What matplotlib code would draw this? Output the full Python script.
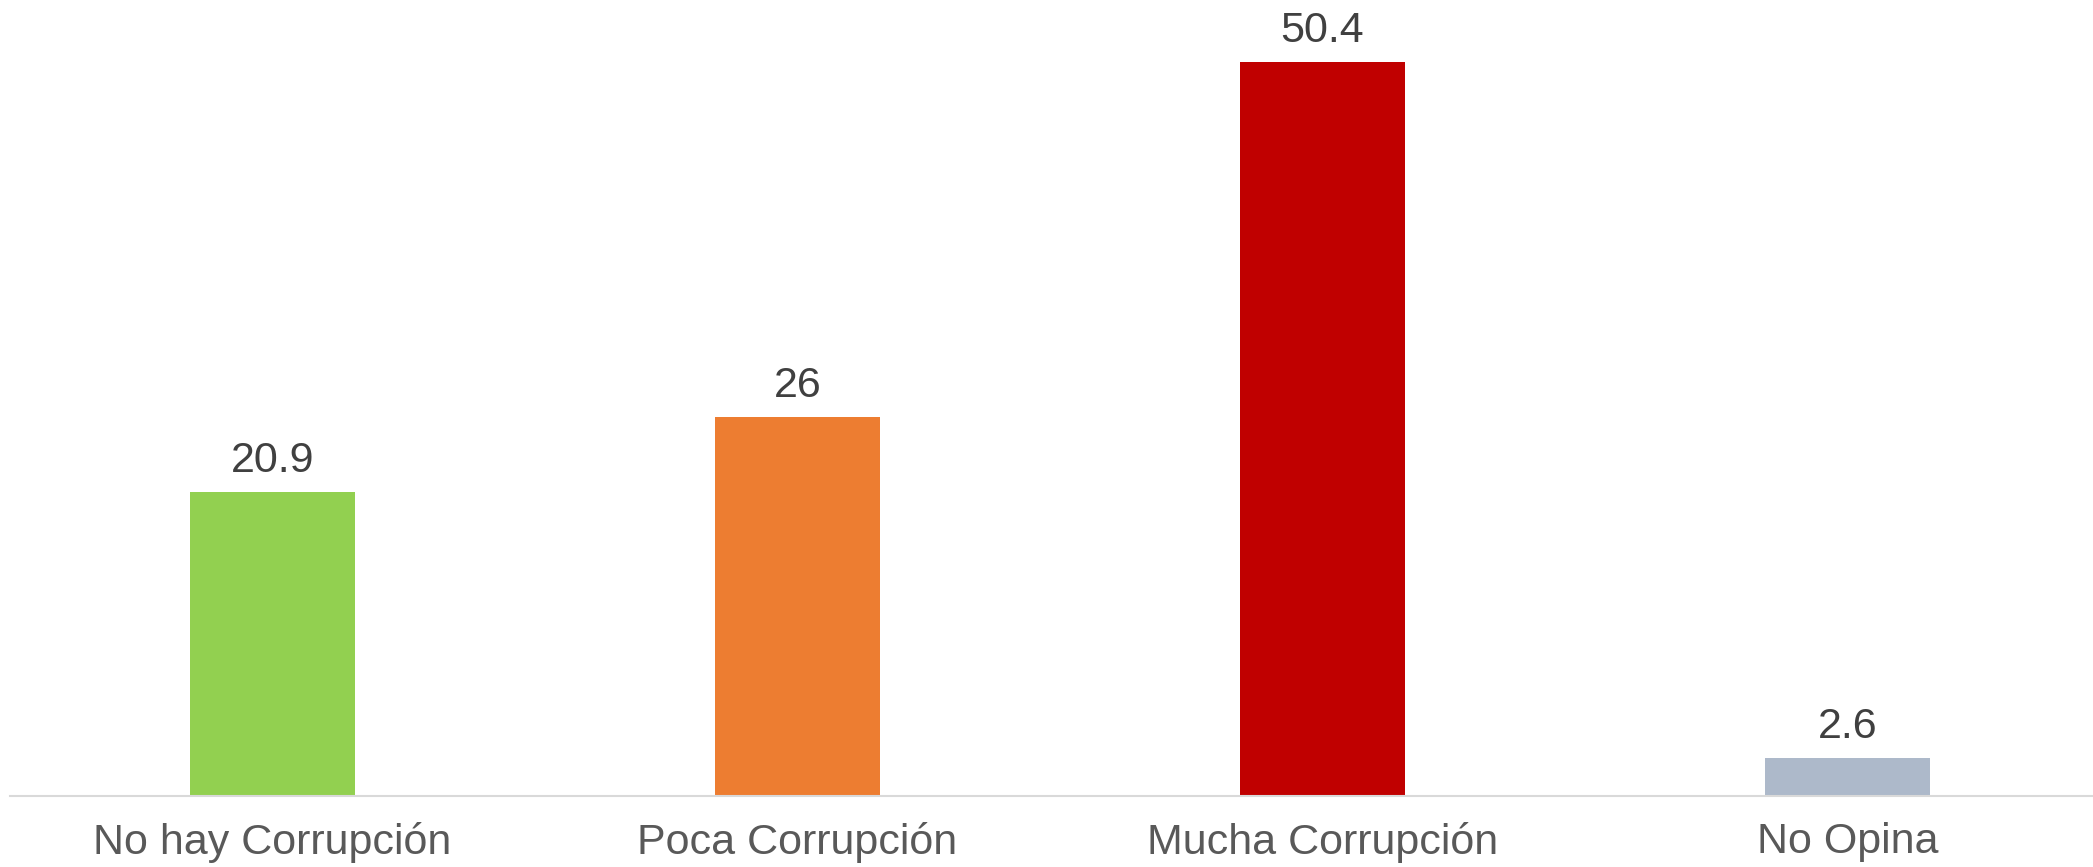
import numpy as np
import matplotlib
matplotlib.use("Agg")
import matplotlib.pyplot as plt

plt.rcParams['font.family'] = ['Liberation Sans', 'DejaVu Sans']

categorias = ["No hay Corrupción", "Poca Corrupción", "Mucha Corrupción", "No Opina"]
valores = [20.9, 26, 50.4, 2.6]
etiquetas = ["20.9", "26", "50.4", "2.6"]
colores = ["#92d050", "#ed7d31", "#c00000", "#adb9ca"]

W, H = 2093, 867
fig = plt.figure(figsize=(W / 100, H / 100), dpi=100)
base = 796
ax = fig.add_axes([10 / W, (H - base) / H, 2100 / W, base / H])

x = np.arange(len(categorias))
barras = ax.bar(x, valores, width=0.314, color=colores)

for b, t in zip(barras, etiquetas):
    ax.annotate(t, (b.get_x() + b.get_width() / 2, b.get_height()),
                xytext=(0, 14.4), textcoords="offset points",
                ha="center", va="baseline", fontsize=31, color="#404040")

ax.set_xlim(-0.5, 3.5)
ax.set_ylim(0, base / 14.56)
ax.set_xticks(x)
ax.set_xticklabels(categorias, fontsize=31, color="#595959")
ax.tick_params(axis="x", length=0, pad=19)
ax.set_yticks([])
for s in ["top", "left", "right"]:
    ax.spines[s].set_visible(False)
ax.spines["bottom"].set_color("#d9d9d9")
ax.spines["bottom"].set_linewidth(1.5)

fig.savefig("out.png", dpi=100)
